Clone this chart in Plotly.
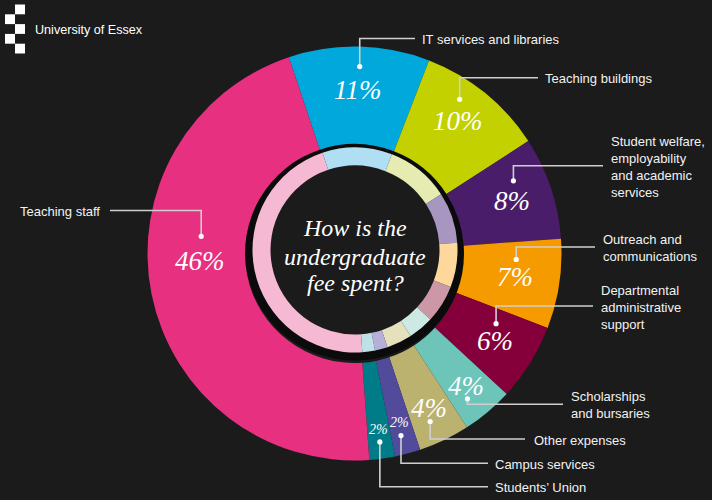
import math
import plotly.graph_objects as go

# ---------------- data ----------------
categories = [
    "IT services and libraries",
    "Teaching buildings",
    "Student welfare, employability and academic services",
    "Outreach and communications",
    "Departmental administrative support",
    "Scholarships and bursaries",
    "Other expenses",
    "Campus services",
    "Students’ Union",
    "Teaching staff",
]
shares = [11, 10, 8, 7, 6, 4, 4, 2, 2, 46]
label_lines = [
    ["IT services and libraries"],
    ["Teaching buildings"],
    ["Student welfare,", "employability", "and academic", "services"],
    ["Outreach and", "communications"],
    ["Departmental", "administrative", "support"],
    ["Scholarships", "and bursaries"],
    ["Other expenses"],
    ["Campus services"],
    ["Students’ Union"],
    ["Teaching staff"],
]
title_lines = ["How is the", "undergraduate", "fee spent?"]

# ---------------- styles ----------------
outer_colors = ["#00a8dc", "#c3d100", "#4a1d6b", "#f59b00", "#85003b",
                "#6dc5b9", "#bab26e", "#524a9a", "#007b88", "#e7307f"]
inner_colors = ["#b0def3", "#e6ebb2", "#a796c0", "#fdd79c", "#cc98a8",
                "#cde9e3", "#e5e1bd", "#b5afd9", "#bfe0e5", "#f6b9d3"]
BG = "#1b1b1b"
RING = "#0b0b0b"
LINE = "#cfcfcf"
W, H = 712, 500

# geometry (pixels)
CX, CY = 354.5, 253.5
R_OUT, R_HOLE = 207, 109.5
ICX, ICY = 355, 250
R_RING, R_RING_HOLE = 102.5, 84.5
ROTATION = -18.5

# label placement styling
PCT_RADIUS = [164, 168, 166, 162, 165, 173, 171, 175, 178, 155]
PCT_SHIFT = [0, -1, 0, 0, 0, 0, 0, 0, 0, 8.4]
DOT_DY = [-23, -22, -20, -18, -17, 13, 14, 13, 12, -25]
ELBOW_Y = [38.5, 77.7, 165.7, 247, 306, 404.3, 439, 463.3, 486.7, 210.5]
LINE_END_X = [415, 538, 603, 595, 593, 563, 525, 488, 488, 110]
TEXT_X = [420, 543, 609, 601, 599, 569, 532, 493, 493, 102]


def px(x):
    return x / W


def py(y):
    return 1 - y / H


def domain(cx, cy, r):
    return dict(x=[px(cx - r), px(cx + r)], y=[py(cy + r), py(cy - r)])


fig = go.Figure()
fig.add_trace(go.Pie(
    labels=categories, values=shares, sort=False, direction="clockwise",
    rotation=ROTATION, hole=R_HOLE / R_OUT, domain=domain(CX, CY, R_OUT),
    marker=dict(colors=outer_colors, line=dict(width=0)),
    textinfo="none", hoverinfo="label+percent", showlegend=False,
))
fig.add_trace(go.Pie(
    labels=categories, values=shares, sort=False, direction="clockwise",
    rotation=ROTATION, hole=R_RING_HOLE / R_RING, domain=domain(ICX, ICY, R_RING),
    marker=dict(colors=inner_colors, line=dict(width=0)),
    textinfo="none", hoverinfo="label+percent", showlegend=False,
))

shapes = []
annotations = []

# dark ring between inner ring and outer slices
rr = (R_RING + R_HOLE) / 2 + 0.5
shapes.append(dict(type="circle", xref="paper", yref="paper", layer="below",
                   x0=px(ICX - rr), x1=px(ICX + rr), y0=py(ICY + rr), y1=py(ICY - rr),
                   line=dict(color=RING, width=8), fillcolor="rgba(0,0,0,0)"))

total = sum(shares)
cum = 0
for i, v in enumerate(shares):
    mid = ROTATION + (cum + v / 2) / total * 360 + PCT_SHIFT[i]
    cum += v
    a = math.radians(mid)
    r = PCT_RADIUS[i]
    tx = CX + r * math.sin(a)
    ty = CY - r * math.cos(a)
    size = 27 if v >= 4 else 14
    annotations.append(dict(
        x=px(tx), y=py(ty), xref="paper", yref="paper", showarrow=False,
        xanchor="center", yanchor="middle", text=f"<i>{v}%</i>",
        font=dict(family="Liberation Serif", size=size, color="white")))
    # callout
    dx = tx + 1.5
    dy = ty + DOT_DY[i]
    ey = ELBOW_Y[i]
    lx = LINE_END_X[i]
    shapes.append(dict(type="path", xref="paper", yref="paper",
                       path=f"M {px(dx)},{py(dy)} L {px(dx)},{py(ey)} L {px(lx)},{py(ey)}",
                       line=dict(color=LINE, width=1.6)))
    shapes.append(dict(type="circle", xref="paper", yref="paper",
                       x0=px(dx - 2.6), x1=px(dx + 2.6), y0=py(dy + 2.6), y1=py(dy - 2.6),
                       fillcolor="white", line=dict(width=0)))
    left = TEXT_X[i] < lx
    annotations.append(dict(
        x=px(TEXT_X[i]), y=py(ey + 1), xref="paper", yref="paper", showarrow=False,
        xanchor="right" if left else "left", yanchor="middle",
        align="right" if left else "left",
        text="<br>".join(label_lines[i]),
        font=dict(family="Liberation Sans", size=13, color="#f2f2f2")))

# centre title
for j, (t, y) in enumerate(zip(title_lines, [228.3, 256.7, 283.3])):
    annotations.append(dict(
        x=px(355), y=py(y), xref="paper", yref="paper", showarrow=False,
        xanchor="center", yanchor="middle", text=f"<i>{t}</i>",
        font=dict(family="Liberation Serif", size=24, color="white")))

# logo
for k, (col, row) in enumerate([(1, 0), (0, 1), (1, 2), (0, 3), (1, 4)]):
    x0 = 5 + col * 10
    y0 = 4.5 + row * 9.8
    shapes.append(dict(type="rect", xref="paper", yref="paper",
                       x0=px(x0), x1=px(x0 + 10), y0=py(y0 + 9.8), y1=py(y0),
                       fillcolor="white", line=dict(width=0)))
annotations.append(dict(
    x=px(33), y=py(30), xref="paper", yref="paper", showarrow=False,
    xanchor="left", yanchor="middle", text="University of Essex",
    font=dict(family="Liberation Sans", size=12.6, color="white")))

fig.update_layout(
    width=W, height=H, margin=dict(l=0, r=0, t=0, b=0),
    paper_bgcolor=BG, plot_bgcolor=BG,
    shapes=shapes, annotations=annotations, showlegend=False,
)

fig.write_html("out.html")
